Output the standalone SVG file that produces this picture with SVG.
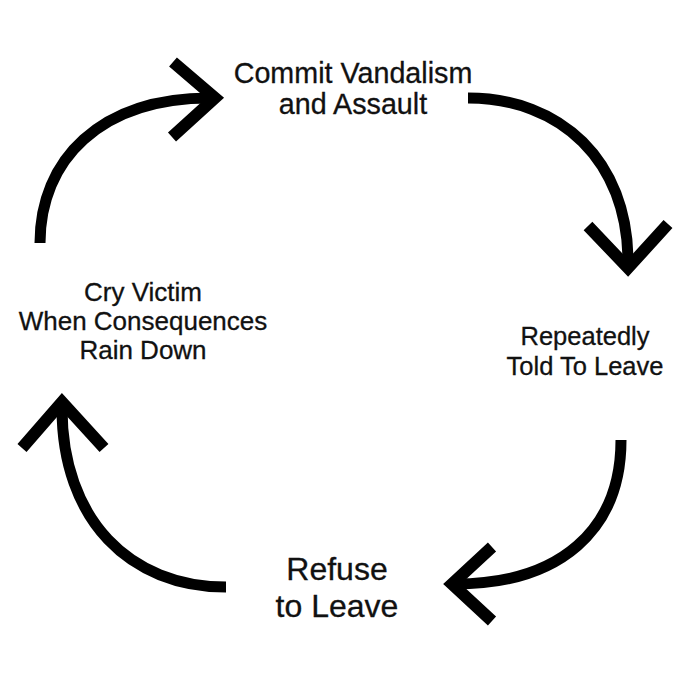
<svg xmlns="http://www.w3.org/2000/svg" width="681" height="677" viewBox="0 0 681 677">
<style>
.arc{fill:none;stroke:#000;stroke-width:11;stroke-linecap:butt}
.head{fill:none;stroke:#000;stroke-width:12;stroke-linejoin:miter;stroke-linecap:butt;stroke-miterlimit:6}
text{font-family:"Liberation Sans",Arial,sans-serif;fill:#111;stroke:#111;stroke-width:0.3;text-anchor:middle}
</style>
<rect width="681" height="677" fill="#fff"/>
<g id="connectors">
<path class="arc" d="M40,243 C40,160 100,98 210,98"/>
<path class="head" d="M173,62 L215,98 L172,137"/>
<path class="arc" d="M468,98 C560,98 628,160 628,262"/>
<path class="head" d="M588,226 L628,268 L668,224"/>
<path class="arc" d="M621,440 C621,530 560,584 455,584"/>
<path class="head" d="M492,547 L452,584 L492,621"/>
<path class="arc" d="M226,587 C130,587 62,520 62,408"/>
<path class="head" d="M22,448 L62,402 L104,448"/>
</g>
<g id="node-commit">
<text x="353" y="83" font-size="28.7">Commit Vandalism</text>
<text x="353" y="114" font-size="28.7">and Assault</text>
</g>
<g id="node-repeatedly">
<text x="585" y="345" font-size="25.5">Repeatedly</text>
<text x="585" y="375" font-size="25.5">Told To Leave</text>
</g>
<g id="node-refuse">
<text x="337" y="580" font-size="32">Refuse</text>
<text x="337" y="617" font-size="32">to Leave</text>
</g>
<g id="node-cry">
<text x="143" y="301" font-size="26">Cry Victim</text>
<text x="143" y="330" font-size="26">When Consequences</text>
<text x="143" y="359" font-size="26">Rain Down</text>
</g>
</svg>
